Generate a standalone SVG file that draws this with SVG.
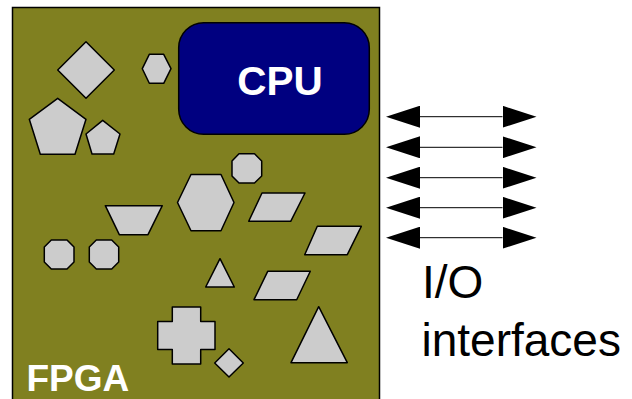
<svg xmlns="http://www.w3.org/2000/svg" width="632" height="399" viewBox="0 0 632 399">
<style>
.sh{fill:#cccccc;stroke:#000;stroke-width:1.5;stroke-linejoin:round}
.lbl{font-family:"Liberation Sans",Arial,sans-serif;font-weight:bold;fill:#fff}
.io{font-family:"Liberation Sans",Arial,sans-serif;fill:#000;font-size:46px}
.conn{stroke:#000;stroke-width:1;fill:none}
</style>
<defs>
<marker id="ah" viewBox="0 0 34 22" refX="0" refY="11" markerWidth="34" markerHeight="22" markerUnits="userSpaceOnUse" orient="auto-start-reverse">
<path d="M0,0 L34,11 L0,22 Z" fill="#000"/>
</marker>
</defs>
<rect width="632" height="399" fill="#fff"/>
<g id="fpga">
<rect x="12.5" y="7.5" width="367" height="400" fill="#808020" stroke="#000" stroke-width="1.5"/>
<text class="lbl" x="26.5" y="391" font-size="37">FPGA</text>
</g>
<g id="cpu">
<rect x="178.7" y="22.7" width="190.6" height="111.6" rx="25" ry="25" fill="#000080" stroke="#000" stroke-width="1.5"/>
<text class="lbl" x="280" y="94.5" font-size="40.5" text-anchor="middle">CPU</text>
</g>
<g id="shapes">
<polygon class="sh" points="86,41.7 114.3,70 86,98.3 57.7,70"/>
<polygon class="sh" points="142.3,68.7 149.3,54.3 163.7,54.3 171,68.7 163.7,83.3 149.3,83.3"/>
<polygon class="sh" points="57.7,98.3 86,119.3 75,154.3 40.3,154.3 29.3,119.3"/>
<polygon class="sh" points="102.7,120.3 120,134 113.7,154 92,154 86,134"/>
<polygon class="sh" points="239,153.7 254.5,153.7 261.7,161 261.7,176 254.5,183 239,183 232,176 232,161"/>
<polygon class="sh" points="177.5,202.5 191,174.5 221,174.5 234,202.5 221,230.7 191,230.7"/>
<polygon class="sh" points="105.3,205.7 162.3,205.7 148,234.7 119.3,234.7"/>
<polygon class="sh" points="262,193 305,193 290.7,221.3 248.7,221.3"/>
<polygon class="sh" points="317.3,226.3 361.3,226.3 347.3,254.7 304.7,254.7"/>
<polygon class="sh" points="267.7,271.3 310.3,271.3 296.7,299.7 254,299.7"/>
<polygon class="sh" points="51.3,240 67,240 74,247 74,262 67,269 51.3,269 44.3,262 44.3,247"/>
<polygon class="sh" points="96.3,240 111.7,240 118.7,247 118.7,262 111.7,269 96.3,269 89.3,262 89.3,247"/>
<polygon class="sh" points="220,258.7 234.3,287 205.7,287"/>
<polygon class="sh" points="172.3,307 200.7,307 200.7,321.5 215,321.5 215,349.5 200.7,349.5 200.7,364 172.3,364 172.3,349.5 157.7,349.5 157.7,321.5 172.3,321.5"/>
<polygon class="sh" points="229,348.7 243.3,363 229,377 214.7,363"/>
<polygon class="sh" points="318.7,306.7 347.3,362.7 291,362.7"/>
</g>
<g id="connectors">
<line class="conn" x1="420" y1="116.7" x2="502.5" y2="116.7" marker-start="url(#ah)" marker-end="url(#ah)"/>
<line class="conn" x1="420" y1="147.3" x2="502.5" y2="147.3" marker-start="url(#ah)" marker-end="url(#ah)"/>
<line class="conn" x1="420" y1="177.7" x2="502.5" y2="177.7" marker-start="url(#ah)" marker-end="url(#ah)"/>
<line class="conn" x1="420" y1="207.7" x2="502.5" y2="207.7" marker-start="url(#ah)" marker-end="url(#ah)"/>
<line class="conn" x1="420" y1="237.7" x2="502.5" y2="237.7" marker-start="url(#ah)" marker-end="url(#ah)"/>
</g>
<g id="io-label">
<text class="io" x="422" y="297.7">I/O</text>
<text class="io" x="421.5" y="356" font-size="47">interfaces</text>
</g>
</svg>
